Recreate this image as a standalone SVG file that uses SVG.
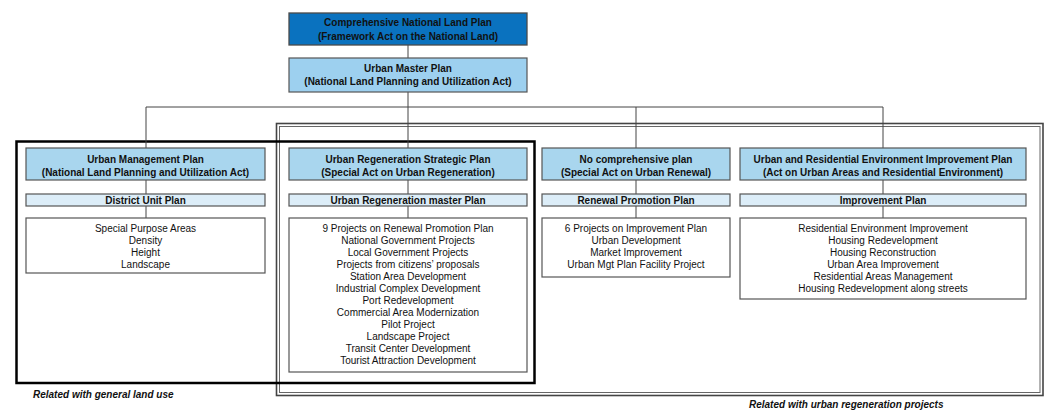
<svg xmlns="http://www.w3.org/2000/svg" width="1045" height="410" viewBox="0 0 1045 410">
  <style>
    text { font-family: "Liberation Sans", Arial, sans-serif; font-size: 10px; fill: #111; text-anchor: middle; }
    .b { font-weight: bold; }
    .note { font-weight: bold; font-style: italic; text-anchor: start; }
    .top { fill: #0a72bf; stroke: #4a4a4a; stroke-width: 1.3; }
    .law { fill: #a9d6ee; stroke: #555; stroke-width: 1.2; }
    .mid { fill: #9dd0ef; stroke: #555; stroke-width: 1.2; }
    .sub { fill: #dcedf8; stroke: #555; stroke-width: 1.2; }
    .list { fill: #fff; stroke: #555; stroke-width: 1.2; }
    .wire { stroke: #444; stroke-width: 1; fill: none; }
  </style>

  <!-- scope frames -->
  <g id="frames" fill="none">
    <rect x="276.5" y="123.5" width="766.5" height="272" stroke="#444" stroke-width="1.6"/>
    <rect x="279.5" y="126.5" width="760.5" height="266" stroke="#666" stroke-width="1"/>
    <rect x="16.5" y="141.5" width="518" height="241.5" stroke="#000" stroke-width="2.5"/>
  </g>

  <!-- connectors -->
  <g id="connectors" class="wire">
    <line x1="408" y1="45" x2="408" y2="58"/>
    <line x1="408" y1="92" x2="408" y2="148"/>
    <line x1="146" y1="107" x2="883" y2="107"/>
    <line x1="146" y1="107" x2="146" y2="148"/>
    <line x1="636" y1="107" x2="636" y2="148"/>
    <line x1="883" y1="107" x2="883" y2="148"/>
    <line x1="146" y1="180" x2="146" y2="194"/>
    <line x1="146" y1="206" x2="146" y2="218"/>
    <line x1="408" y1="180" x2="408" y2="194"/>
    <line x1="408" y1="206" x2="408" y2="218"/>
    <line x1="636" y1="180" x2="636" y2="194"/>
    <line x1="636" y1="206" x2="636" y2="218"/>
    <line x1="883" y1="180" x2="883" y2="194"/>
    <line x1="883" y1="206" x2="883" y2="218"/>
  </g>

  <g id="national-plan">
    <rect class="top" x="289" y="13" width="238" height="32"/>
    <text class="b" x="408" y="26">Comprehensive National Land Plan</text>
    <text class="b" x="408" y="39.5">(Framework Act on the National Land)</text>
  </g>

  <g id="urban-master-plan">
    <rect class="mid" x="289" y="58" width="238" height="34"/>
    <text class="b" x="408" y="72">Urban Master Plan</text>
    <text class="b" x="408" y="84.6">(National Land Planning and Utilization Act)</text>
  </g>

  <!-- column 1 -->
  <g id="urban-management-plan">
    <rect class="law" x="26" y="148" width="239" height="32"/>
    <text class="b" x="145.5" y="163">Urban Management Plan</text>
    <text class="b" x="145.5" y="175.5">(National Land Planning and Utilization Act)</text>
  </g>
  <g id="district-unit-plan">
    <rect class="sub" x="26" y="194" width="239" height="12"/>
    <text class="b" x="145.5" y="203.6">District Unit Plan</text>
  </g>
  <g id="district-unit-items">
    <rect class="list" x="26" y="218" width="239" height="55"/>
    <text x="145.5" y="232.3">Special Purpose Areas</text>
    <text x="145.5" y="244.3">Density</text>
    <text x="145.5" y="256.3">Height</text>
    <text x="145.5" y="268.3">Landscape</text>
  </g>

  <!-- column 2 -->
  <g id="regeneration-strategic-plan">
    <rect class="law" x="289" y="148" width="238" height="32"/>
    <text class="b" x="408" y="163">Urban Regeneration Strategic Plan</text>
    <text class="b" x="408" y="175.5">(Special Act on Urban Regeneration)</text>
  </g>
  <g id="regeneration-master-plan">
    <rect class="sub" x="289" y="194" width="238" height="12"/>
    <text class="b" x="408" y="203.6">Urban Regeneration master Plan</text>
  </g>
  <g id="regeneration-items">
    <rect class="list" x="289" y="218" width="238" height="154"/>
    <text x="408" y="232.3">9 Projects on Renewal Promotion Plan</text>
    <text x="408" y="244.3">National Government Projects</text>
    <text x="408" y="256.3">Local Government Projects</text>
    <text x="408" y="268.3">Projects from citizens’ proposals</text>
    <text x="408" y="280.3">Station Area Development</text>
    <text x="408" y="292.3">Industrial Complex Development</text>
    <text x="408" y="304.3">Port Redevelopment</text>
    <text x="408" y="316.3">Commercial Area Modernization</text>
    <text x="408" y="328.3">Pilot Project</text>
    <text x="408" y="340.3">Landscape Project</text>
    <text x="408" y="352.3">Transit Center Development</text>
    <text x="408" y="364.3">Tourist Attraction Development</text>
  </g>

  <!-- column 3 -->
  <g id="urban-renewal">
    <rect class="law" x="542" y="148" width="188" height="32"/>
    <text class="b" x="636" y="163">No comprehensive plan</text>
    <text class="b" x="636" y="175.5">(Special Act on Urban Renewal)</text>
  </g>
  <g id="renewal-promotion-plan">
    <rect class="sub" x="542" y="194" width="188" height="12"/>
    <text class="b" x="636" y="203.6">Renewal Promotion Plan</text>
  </g>
  <g id="renewal-items">
    <rect class="list" x="542" y="218" width="188" height="59"/>
    <text x="636" y="232.3">6 Projects on Improvement Plan</text>
    <text x="636" y="244.3">Urban Development</text>
    <text x="636" y="256.3">Market Improvement</text>
    <text x="636" y="268.3">Urban Mgt Plan Facility Project</text>
  </g>

  <!-- column 4 -->
  <g id="residential-improvement-plan">
    <rect class="law" x="740" y="148" width="286" height="32"/>
    <text class="b" x="883" y="163">Urban and Residential Environment Improvement Plan</text>
    <text class="b" x="883" y="175.5">(Act on Urban Areas and Residential Environment)</text>
  </g>
  <g id="improvement-plan">
    <rect class="sub" x="740" y="194" width="286" height="12"/>
    <text class="b" x="883" y="203.6">Improvement Plan</text>
  </g>
  <g id="improvement-items">
    <rect class="list" x="740" y="218" width="286" height="81"/>
    <text x="883" y="232.3">Residential Environment Improvement</text>
    <text x="883" y="244.3">Housing Redevelopment</text>
    <text x="883" y="256.3">Housing Reconstruction</text>
    <text x="883" y="268.3">Urban Area Improvement</text>
    <text x="883" y="280.3">Residential Areas Management</text>
    <text x="883" y="292.3">Housing Redevelopment along streets</text>
  </g>

  <!-- scope captions -->
  <g id="captions">
    <text class="note" x="33" y="398">Related with general land use</text>
    <text class="note" x="749" y="408">Related with urban regeneration projects</text>
  </g>
</svg>
